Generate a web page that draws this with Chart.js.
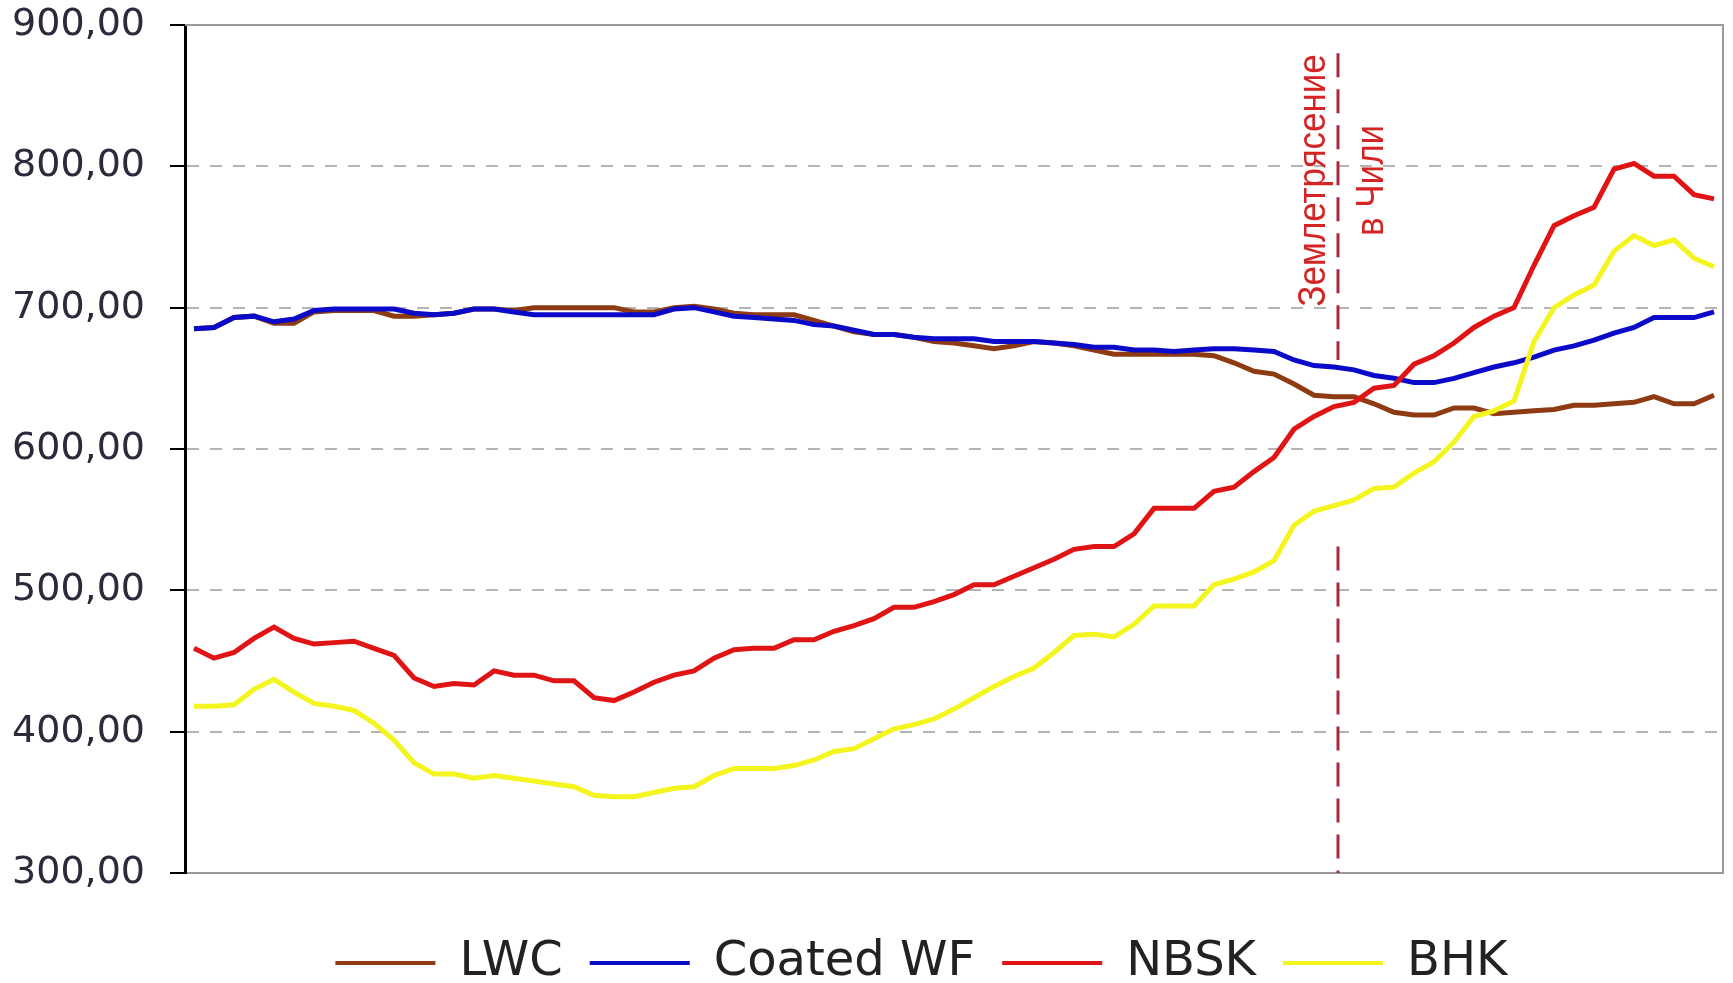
<!DOCTYPE html>
<html><head><meta charset="utf-8">
<script src="https://cdn.jsdelivr.net/npm/chart.js@4.4.1/dist/chart.umd.min.js"></script>
<style>html,body{margin:0;padding:0;background:#fff;overflow:hidden}</style>
</head><body>
<canvas id="c" width="1733" height="983"></canvas>
<script>
// ---- data ----
const seriesNames = ['LWC', 'Coated WF', 'NBSK', 'BHK'];
const lwc = [685,686,693,694,689,689,697,698,698,698,
  694,694,695,696,699,699,698,700,700,700,
  700,700,697,697,700,701,699,696,695,695,
  695,691,687,683,681,681,679,676,675,673,
  671,673,676,675,673,670,667,667,667,667,
  667,666,661,655,653,646,638,637,637,632,
  626,624,624,629,629,625,626,627,628,631,
  631,632,633,637,632,632,638];
const coatedWF = [685,686,693,694,690,692,698,699,699,699,
  699,696,695,696,699,699,697,695,695,695,
  695,695,695,695,699,700,697,694,693,692,
  691,688,687,684,681,681,679,678,678,678,
  676,676,676,675,674,672,672,670,670,669,
  670,671,671,670,669,663,659,658,656,652,
  650,647,647,650,654,658,661,665,670,673,
  677,682,686,693,693,693,697];
const nbsk = [459,452,456,466,474,466,462,463,464,459,
  454,438,432,434,433,443,440,440,436,436,
  424,422,428,435,440,443,452,458,459,459,
  465,465,471,475,480,488,488,492,497,504,
  504,510,516,522,529,531,531,540,558,558,
  558,570,573,584,594,614,623,630,633,643,
  645,660,666,675,686,694,700,730,758,765,
  771,798,802,793,793,780,777];
const bhk = [418,418,419,430,437,428,420,418,415,406,
  394,378,370,370,367,369,367,365,363,361,
  355,354,354,357,360,361,369,374,374,374,
  376,380,386,388,395,402,405,409,416,424,
  432,439,445,456,468,469,467,476,489,489,
  489,504,508,513,521,546,556,560,564,572,
  573,583,591,605,623,627,634,676,700,709,
  716,740,751,744,748,735,729];
const yTickValues = [300, 400, 500, 600, 700, 800, 900];
const yTickLabels = ['300,00', '400,00', '500,00', '600,00', '700,00', '800,00', '900,00'];
const eventIndex = 57.2;                 // position of the event on the time axis
const eventText = ['Землетрясение', 'в Чили'];
const eventLineTop = 880, eventGapTop = 663, eventGapBottom = 531, eventTextCenter = 790;

const colors = ['#8e3a12', '#0a0ac8', '#e01414', '#f4f41e'];
const allSeries = [lwc, coatedWF, nbsk, bhk];

const frame = {
  id: 'frame',
  afterLayout(chart) {
    // centre the legend row under the same span as the reference
    if (chart.legend) { chart.legend.left = 120; chart.legend.width = chart.legend.right - 120; }
  },
  beforeDatasetsDraw(chart) {
    const {ctx, chartArea: a} = chart;
    ctx.save();
    ctx.strokeStyle = '#9a9a9a';
    ctx.lineWidth = 2;
    ctx.beginPath();
    ctx.moveTo(a.left, a.top); ctx.lineTo(a.right, a.top); ctx.lineTo(a.right, a.bottom);
    ctx.stroke();
    ctx.restore();
  }
};

const eventMark = {
  id: 'eventMark',
  afterDatasetsDraw(chart) {
    const {ctx, scales: {x, y}} = chart;
    const ex = Math.round(x.getPixelForValue(eventIndex));
    ctx.save();
    ctx.strokeStyle = '#a8283c';
    ctx.lineWidth = 3;
    ctx.setLineDash([24, 12]);
    ctx.beginPath();
    ctx.moveTo(ex, y.getPixelForValue(eventLineTop));
    ctx.lineTo(ex, y.getPixelForValue(eventGapTop));
    ctx.moveTo(ex, y.getPixelForValue(eventGapBottom));
    ctx.lineTo(ex, y.getPixelForValue(300));
    ctx.stroke();
    ctx.setLineDash([]);
    ctx.fillStyle = '#d42424';
    ctx.font = '38px "Liberation Sans", Arial, sans-serif';
    ctx.textAlign = 'center';
    ctx.textBaseline = 'alphabetic';
    const cy = y.getPixelForValue(eventTextCenter);
    const offs = [-13, 45];
    eventText.forEach((t, i) => {
      ctx.save();
      ctx.translate(ex + offs[i], cy);
      ctx.rotate(-Math.PI / 2);
      ctx.scale(0.92, 1);
      ctx.fillText(t, 0, 0);
      ctx.restore();
    });
    ctx.restore();
  }
};

new Chart(document.getElementById('c'), {
  type: 'line',
  data: {
    datasets: seriesNames.map((name, k) => ({
      label: name,
      data: allSeries[k].map((v, i) => ({x: i, y: v})),
      borderColor: colors[k],
      backgroundColor: colors[k],
      borderWidth: 5,
      pointRadius: 0,
      tension: 0,
      fill: false,
      order: 4 - k
    }))
  },
  options: {
    responsive: false,
    animation: false,
    devicePixelRatio: 1,
    layout: {padding: {left: 5, right: 10, top: 25, bottom: 0}},
    plugins: {
      tooltip: {enabled: false},
      legend: {
        position: 'bottom',
        maxHeight: 71,
        labels: {
          boxWidth: 100,
          boxHeight: 4,
          padding: 27,
          color: '#222',
          font: {family: '"DejaVu Sans", sans-serif', size: 48},
          generateLabels(chart) {
            return chart.data.datasets.map((d, i) => ({
              text: d.label, fillStyle: d.borderColor, strokeStyle: d.borderColor,
              lineWidth: 0, hidden: false, datasetIndex: i, fontColor: '#222'
            }));
          }
        }
      }
    },
    scales: {
      x: {
        type: 'linear',
        min: -0.45,
        max: lwc.length - 1 + 0.45,
        ticks: {display: false},
        grid: {display: false},
        border: {display: true, color: '#9a9a9a', width: 2},
        afterFit(s) { s.height = 39; }
      },
      y: {
        min: 300,
        max: 900,
        afterBuildTicks(s) { s.ticks = yTickValues.map(v => ({value: v})); },
        ticks: {
          padding: 0,
          color: '#2b2b3b',
          font: {family: '"DejaVu Sans", sans-serif', size: 38},
          callback(v) { return yTickLabels[yTickValues.indexOf(v)]; }
        },
        grid: {
          color(c) { return (c.tick && (c.tick.value === 300 || c.tick.value === 900)) ? 'rgba(0,0,0,0)' : '#b4b4b4'; },
          lineWidth: 2,
          tickLength: 40,
          tickColor: '#000',
          tickWidth: 2,
          tickBorderDash: [0, 25, 16, 0]
        },
        border: {display: true, color: '#000', width: 3, dash: [12, 11]},
        afterFit(s) { s.width = 180; }
      }
    }
  },
  plugins: [frame, eventMark]
});
</script>
</body></html>
